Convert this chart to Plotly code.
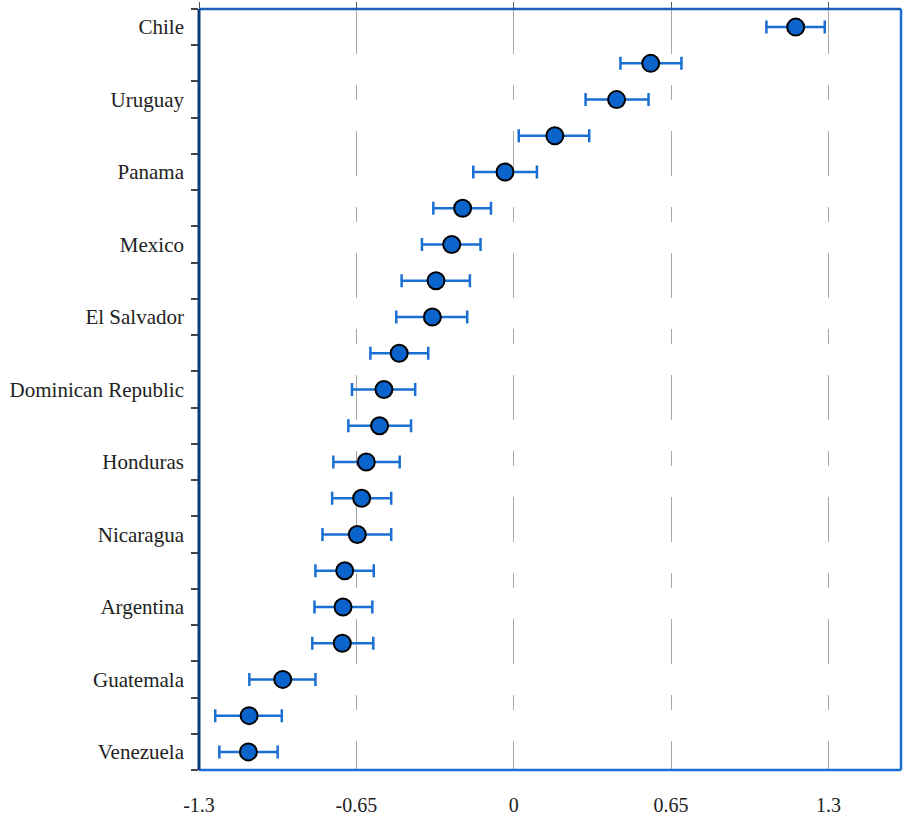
import plotly.graph_objects as go

# Row order top to bottom (21 rows; only alternate rows carry a label)
row_labels = ["Chile", "", "Uruguay", "", "Panama", "", "Mexico", "", "El Salvador", "",
              "Dominican Republic", "", "Honduras", "", "Nicaragua", "", "Argentina", "",
              "Guatemala", "", "Venezuela"]
estimate = [1.165, 0.566, 0.425, 0.170, -0.036, -0.211, -0.256, -0.321, -0.336, -0.473,
            -0.536, -0.554, -0.609, -0.628, -0.646, -0.698, -0.705, -0.708, -0.954, -1.093, -1.096]
ci_low = [1.044, 0.441, 0.297, 0.021, -0.167, -0.332, -0.379, -0.463, -0.485, -0.592,
          -0.668, -0.683, -0.745, -0.750, -0.790, -0.819, -0.823, -0.832, -1.092, -1.233, -1.216]
ci_high = [1.285, 0.693, 0.557, 0.312, 0.096, -0.094, -0.137, -0.181, -0.192, -0.353,
           -0.407, -0.424, -0.471, -0.506, -0.506, -0.578, -0.584, -0.580, -0.819, -0.958, -0.975]
x_ticks = [-1.3, -0.65, 0, 0.65, 1.3]
x_tick_text = ["-1.3", "-0.65", "0", "0.65", "1.3"]

rows = list(range(1, len(row_labels) + 1))
lab_vals = [r for r, l in zip(rows, row_labels) if l]
lab_text = [l for l in row_labels if l]

FONT = "Liberation Serif"
BLUE = "#0a64cc"

fig = go.Figure()
fig.add_trace(go.Scatter(
    x=estimate, y=rows, mode="markers",
    marker=dict(size=17, color=BLUE, line=dict(color="black", width=2)),
    error_x=dict(type="data", symmetric=False,
                 array=[h - e for h, e in zip(ci_high, estimate)],
                 arrayminus=[e - l for e, l in zip(estimate, ci_low)],
                 color="#1a6fd2", thickness=2.5, width=6.5),
    showlegend=False, hoverinfo="skip",
))
# invisible trace to bind the top tick axis
fig.add_trace(go.Scatter(x=[-1.3], y=[1], xaxis="x2", mode="markers",
                         marker=dict(opacity=0), showlegend=False, hoverinfo="skip"))

fig.update_layout(
    width=904, height=820,
    margin=dict(l=199, r=3, t=9, b=50),
    paper_bgcolor="white", plot_bgcolor="white",
    font=dict(family=FONT, size=21, color="#222"),
    xaxis=dict(range=[-1.3, 1.6], tickmode="array", tickvals=x_ticks, ticktext=x_tick_text,
               showgrid=True, gridcolor="#a8a8a8", gridwidth=1,
               griddash="45px,31px,15px,31px",
               zeroline=False, showline=False, ticks="", ticklabelstandoff=21,
               tickfont=dict(family=FONT, size=20, color="#222")),
    xaxis2=dict(range=[-1.3, 1.6], overlaying="x", side="top", tickmode="array",
                tickvals=x_ticks, showticklabels=False, ticks="outside", ticklen=6,
                tickcolor="#555", showgrid=False, zeroline=False, showline=False),
    yaxis=dict(range=[21.5, 0.5], tickmode="array", tickvals=lab_vals, ticktext=lab_text,
               ticks="", showgrid=False, zeroline=False, showline=False,
               ticklabelstandoff=14,
               tickfont=dict(family=FONT, size=21, color="#222"),
               minor=dict(tick0=0.5, dtick=1, ticks="outside", ticklen=7,
                          tickcolor="#444", tickwidth=1.5, showgrid=False)),
    shapes=[
        dict(type="line", xref="paper", yref="paper", x0=0, x1=1, y0=1, y1=1,
             line=dict(color="#1a5fb5", width=2.5), layer="above"),
        dict(type="line", xref="paper", yref="paper", x0=1, x1=1, y0=0, y1=1,
             line=dict(color="#1a6fd2", width=2.5), layer="above"),
        dict(type="line", xref="paper", yref="paper", x0=0, x1=1, y0=0, y1=0,
             line=dict(color="#1a6fd2", width=2.5), layer="above"),
        dict(type="line", xref="paper", yref="paper", x0=0, x1=0, y0=0, y1=1,
             line=dict(color="#0b3c7a", width=3), layer="above"),
    ],
)

fig.write_html("out.html", config={"displayModeBar": False},
               post_script="document.body.style.margin='0';document.body.style.overflow='hidden';")
